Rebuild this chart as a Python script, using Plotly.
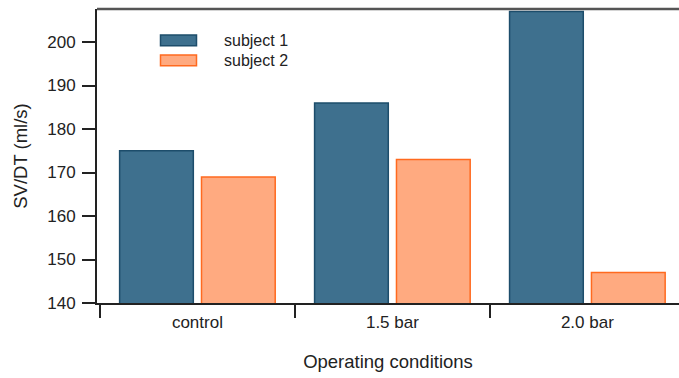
import plotly.graph_objects as go

categories = ["control", "1.5 bar", "2.0 bar"]
subject1 = [175, 186, 207]
subject2 = [169, 173, 147]
series_names = ["subject 1", "subject 2"]
y_ticks = [140, 150, 160, 170, 180, 190, 200]

fills = ["#3e708e", "#ffaa80"]
edges = ["#1d4d6b", "#ff6a1f"]

fig = go.Figure()
for name, vals, fc, ec in zip(series_names, [subject1, subject2], fills, edges):
    fig.add_trace(go.Bar(
        x=categories, y=vals, name=name, showlegend=False,
        marker=dict(color=fc, line=dict(color=ec, width=1.5)),
    ))

font_family = "Liberation Sans, Arial, sans-serif"
W, H = 679, 378
plot_left, plot_right, plot_top, plot_bottom = 97, 679, 9, 303
ml = plot_left
mr = W - plot_right
mt = plot_top
mb = H - plot_bottom
pw, ph = plot_right - plot_left, plot_bottom - plot_top

def px_x(px):
    return (px - plot_left) / pw

def px_y(py):
    return (plot_bottom - py) / ph

legend_rows = [(35, 45.7), (55, 65.7)]
shapes = []
annotations = []
for (top, bot), name, fc, ec in zip(legend_rows, series_names, fills, edges):
    shapes.append(dict(type="rect", xref="paper", yref="paper",
                       x0=px_x(160.5), x1=px_x(196.5), y0=px_y(bot), y1=px_y(top),
                       fillcolor=fc, line=dict(color=ec, width=1.5)))
    annotations.append(dict(text=name, xref="paper", yref="paper",
                            x=px_x(221.5), y=px_y((top + bot) / 2),
                            xanchor="left", yanchor="middle", showarrow=False,
                            font=dict(size=16, color="#222222")))
# top frame line
shapes.append(dict(type="line", xref="paper", yref="paper", x0=0, x1=1, y0=1, y1=1,
                   line=dict(color="#555555", width=2.5)))

fig.update_layout(
    width=W, height=H,
    margin=dict(l=ml, r=mr, t=mt, b=mb, autoexpand=False),
    paper_bgcolor="white", plot_bgcolor="white",
    barmode="group", bargap=0.16, bargroupgap=0.1,
    font=dict(family=font_family, size=17, color="#222222"),
    shapes=shapes, annotations=annotations,
    xaxis=dict(
        range=[-0.515, 2.47], tickson="boundaries", ticks="outside", ticklen=13,
        tickwidth=1.5, tickcolor="#222222", showline=True, linecolor="#222222",
        linewidth=1.5, showgrid=False, zeroline=False, automargin=False,
        title=dict(text="Operating conditions", standoff=24, font=dict(size=18.5)),
        tickfont=dict(size=17), ticklabelstandoff=3,
    ),
    yaxis=dict(
        range=[140, 207.6], tickvals=y_ticks, ticks="outside", ticklen=13,
        tickwidth=1.5, tickcolor="#222222", showline=True, linecolor="#222222",
        linewidth=2, showgrid=False, zeroline=False, automargin=False,
        title=dict(text="SV/DT (ml/s)", standoff=15, font=dict(size=18.5)),
        tickfont=dict(size=17), ticklabelstandoff=3,
    ),
)

fig.write_html(
    "out.html",
    config={"displayModeBar": False},
    post_script="document.body.style.margin='0';document.body.style.overflow='hidden';",
)
